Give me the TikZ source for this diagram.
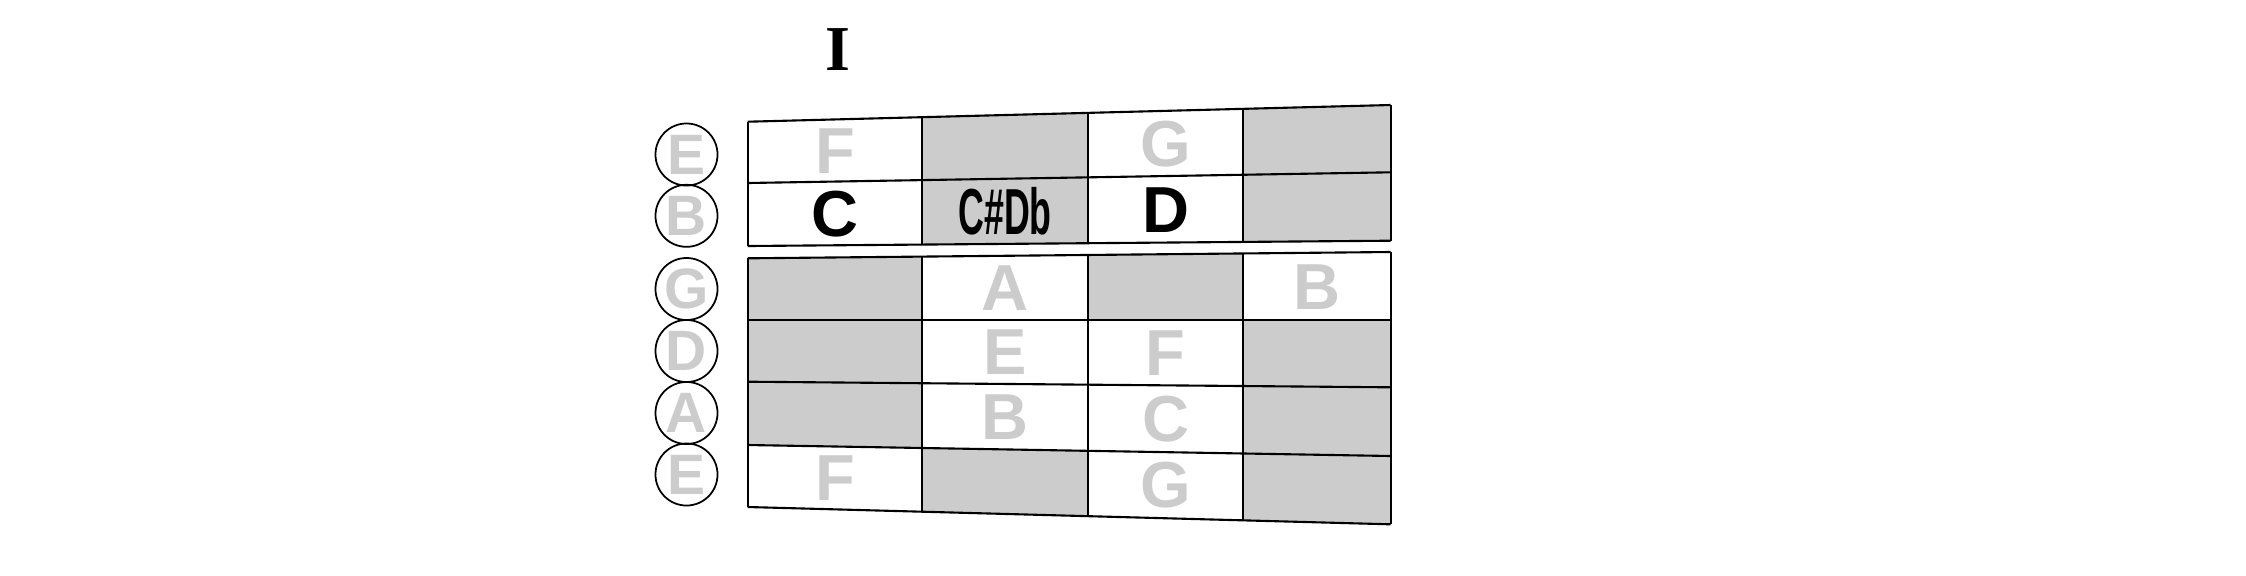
\documentclass[tikz,border=0pt]{standalone}
\usepackage{fontspec}
\setmainfont{Liberation Sans}
\newfontfamily\serifbold{Liberation Serif}
\usetikzlibrary{calc}
\definecolor{lg}{RGB}{204,204,204}
\tikzset{
  cellfill/.style={fill=lg},
  gridline/.style={draw=black, line width=0.6pt},
  gl/.style={text=lg, inner sep=0pt, font=\bfseries\fontsize{18.5}{20}\selectfont},
  bl/.style={text=black, inner sep=0pt, font=\bfseries\fontsize{18.5}{20}\selectfont},
  strnode/.style={circle, draw=black, line width=0.5pt, minimum size=0.62cm, inner sep=0pt,
    text=lg, font=\bfseries\fontsize{16.2}{18}\selectfont},
  title/.style={inner sep=0pt, font=\serifbold\bfseries\fontsize{18.2}{20}\selectfont}
}
\newcommand\gcell[4]{\fill[cellfill] (#1-#3) -- (#1-#4) -- (#2-#4) -- (#2-#3) -- cycle;}
\begin{document}
\begin{tikzpicture}[x=0.01cm,y=-0.01cm]
\useasboundingbox (0,0) rectangle (2246,575);
% grid points
\foreach \n/\l/\r in {u0/121.7/105, u1/183/172.3, u2/246/240.7, d0/258.3/252, d1/320/320, d2/381.7/387.3, d3/445/456, d4/507/524.3}{
  \coordinate (\n-0) at (747.7,\l);
  \coordinate (\n-4) at (1390.7,\r);
  \foreach \c/\f in {1/0.2715,2/0.5292,3/0.7703}{
    \coordinate (\n-\c) at ($(\n-0)!\f!(\n-4)$);
  }
}
% gray cells
\gcell{u0}{u1}{1}{2}
\gcell{u0}{u1}{3}{4}
\gcell{u1}{u2}{1}{2}
\gcell{u1}{u2}{3}{4}
\gcell{d0}{d1}{0}{1}
\gcell{d0}{d1}{2}{3}
\gcell{d1}{d2}{0}{1}
\gcell{d1}{d2}{3}{4}
\gcell{d2}{d3}{0}{1}
\gcell{d2}{d3}{3}{4}
\gcell{d3}{d4}{1}{2}
\gcell{d3}{d4}{3}{4}
% grid lines
\foreach \n in {u0,u1,u2,d0,d1,d2,d3,d4}{\draw[gridline] (\n-0) -- (\n-4);}
\foreach \c in {0,1,2,3,4}{
  \draw[gridline] (u0-\c) -- (u2-\c);
  \draw[gridline] (d0-\c) -- (d4-\c);
}
% title
\node[title] (roman) at (837.7,49.5) {I};
% string circles
\node[strnode] (s1) at (686.5,154.5) {E};
\node[strnode] (s2) at (686.5,215.8) {B};
\node[strnode] (s3) at (686.5,289) {G};
\node[strnode] (s4) at (686.5,351) {D};
\node[strnode] (s5) at (686.5,413) {A};
\node[strnode] (s6) at (686.5,474.5) {E};
% notes
\node[gl] (n1a) at ($(u0-0)!0.5!(u1-1)$) {F};
\node[gl] (n1c) at ($(u0-2)!0.5!(u1-3)$) {G};
\node[bl] (n2a) at ($(u1-0)!0.5!(u2-1)$) {C};
\node[bl] (n2b) at ($(u1-1)!0.5!(u2-2)$) {\scalebox{0.55}[1]{C\#Db}};
\node[bl] (n2c) at ($(u1-2)!0.5!(u2-3)$) {D};
\node[gl] (n3b) at ($(d0-1)!0.5!(d1-2)$) {A};
\node[gl] (n3d) at ($(d0-3)!0.5!(d1-4)$) {B};
\node[gl] (n4b) at ($(d1-1)!0.5!(d2-2)$) {E};
\node[gl] (n4c) at ($(d1-2)!0.5!(d2-3)$) {F};
\node[gl] (n5b) at ($(d2-1)!0.5!(d3-2)$) {B};
\node[gl] (n5c) at ($(d2-2)!0.5!(d3-3)$) {C};
\node[gl] (n6a) at ($(d3-0)!0.5!(d4-1)$) {F};
\node[gl] (n6c) at ($(d3-2)!0.5!(d4-3)$) {G};
\end{tikzpicture}
\end{document}
